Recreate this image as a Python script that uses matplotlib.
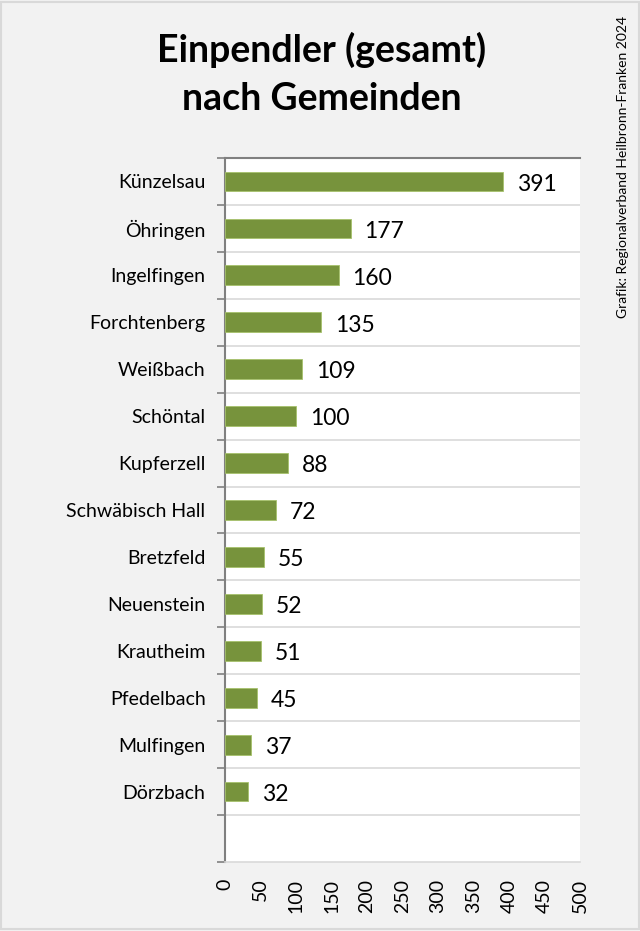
import numpy as np
import matplotlib.pyplot as plt
from matplotlib.patches import Rectangle

plt.rcParams['font.family'] = ['Lato', 'DejaVu Sans']

gemeinden = ['Künzelsau', 'Öhringen', 'Ingelfingen', 'Forchtenberg', 'Weißbach',
             'Schöntal', 'Kupferzell', 'Schwäbisch Hall', 'Bretzfeld', 'Neuenstein',
             'Krautheim', 'Pfedelbach', 'Mulfingen', 'Dörzbach']
einpendler = [391, 177, 160, 135, 109, 100, 88, 72, 55, 52, 51, 45, 37, 32]
x_ticks = np.arange(0, 501, 50)

fig = plt.figure(figsize=(6.4, 9.31), dpi=100, facecolor='#f2f2f2')
fig.patches.append(Rectangle((0.002, 0.002), 0.996, 0.996, transform=fig.transFigure,
                             fill=False, edgecolor='#d9d9d9', linewidth=1.5))

ax = fig.add_axes([0.3516, 0.0741, 0.5547, 0.7562])
ax.set_facecolor('white')

n_slots = len(gemeinden) + 1
y = np.arange(len(gemeinden))
bars = ax.barh(y, einpendler, height=0.42, color='#77933c', edgecolor='#a6c26b', linewidth=0.6, zorder=3)

for b, v in zip(bars, einpendler):
    ax.annotate(str(v), (b.get_width(), b.get_y() + b.get_height() / 2),
                xytext=(10, -2), textcoords='offset points', va='center', ha='left',
                fontsize=16.5, color='black')

ax.set_xlim(0, 500)
ax.set_ylim(n_slots - 0.5, -0.5)
ax.set_xticks(x_ticks)
ax.set_xticklabels([str(t) for t in x_ticks], rotation=90, fontsize=14)
ax.tick_params(axis='x', length=0, pad=12)

ax.set_yticks(y)
ax.set_yticklabels(gemeinden, fontsize=14)
ax.tick_params(axis='y', which='major', length=0, pad=14)
ax.set_yticks(np.arange(-0.5, n_slots), minor=True)
ax.tick_params(axis='y', which='minor', length=6, color='#808080', width=1.2)

for b in np.arange(0.5, n_slots - 0.5):
    ax.axhline(b, color='#d9d9d9', linewidth=1.2, zorder=1)

ax.spines['right'].set_visible(False)
ax.spines['left'].set_color('#808080')
ax.spines['left'].set_linewidth(1.5)
ax.spines['top'].set_color('#808080')
ax.spines['top'].set_linewidth(1.5)
ax.spines['bottom'].set_color('#d9d9d9')
ax.spines['bottom'].set_linewidth(1.2)

fig.text(0.503, 1 - 62 / 931, 'Einpendler (gesamt)', ha='center', va='baseline',
         fontsize=27, fontweight='bold')
fig.text(0.503, 1 - 110 / 931, 'nach Gemeinden', ha='center', va='baseline',
         fontsize=27, fontweight='bold')
fig.text(0.973, 0.983, 'Grafik: Regionalverband Heilbronn-Franken 2024', rotation=90,
         ha='center', va='top', fontsize=10)

fig.savefig('out.png', dpi=100, facecolor=fig.get_facecolor())
